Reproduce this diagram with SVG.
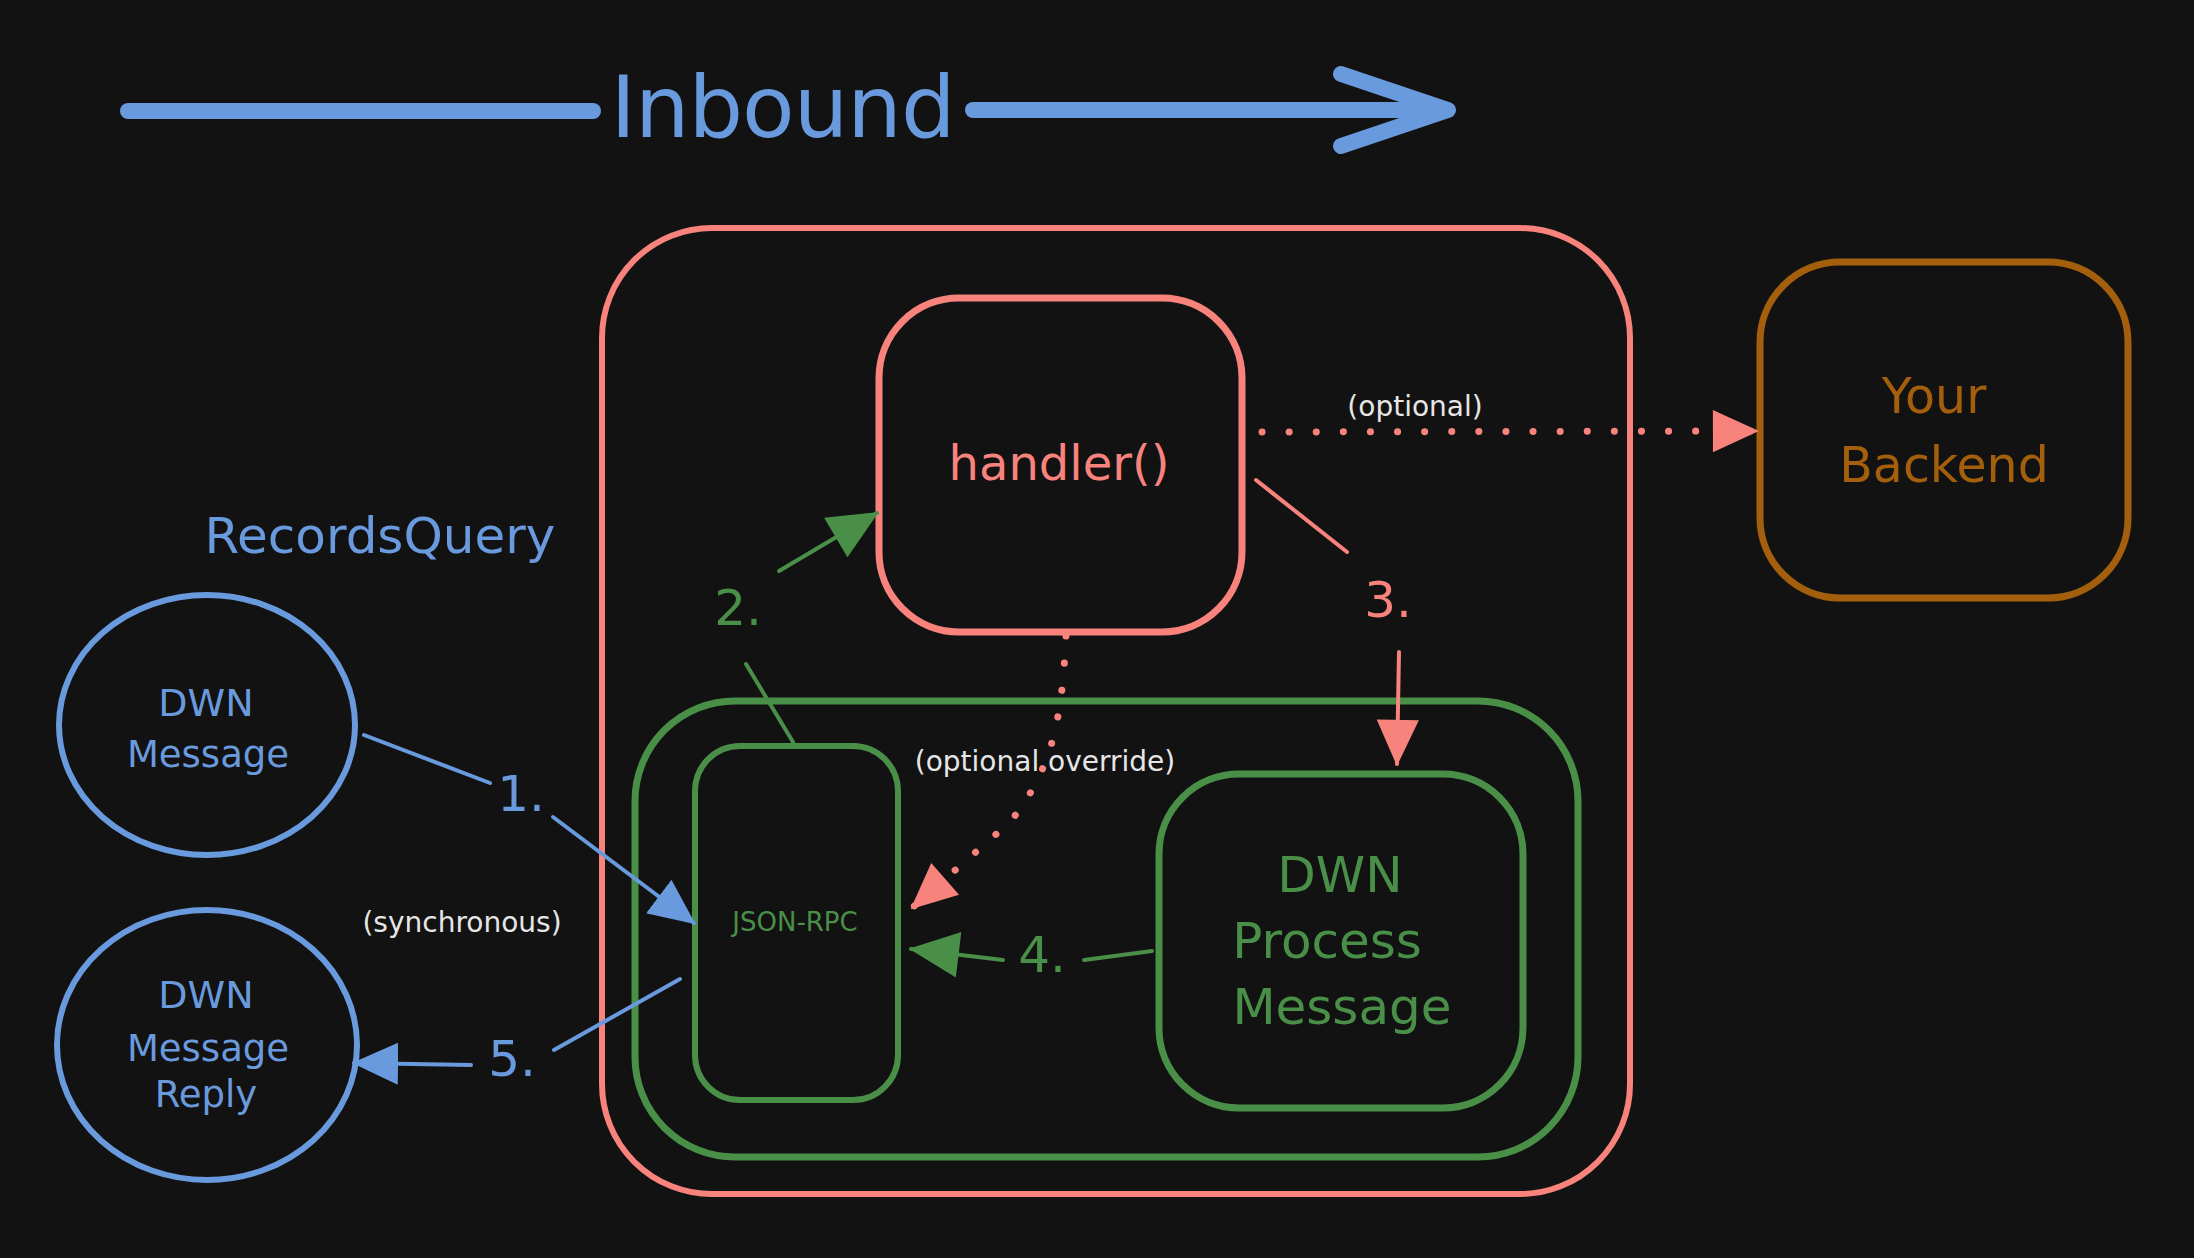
<svg xmlns="http://www.w3.org/2000/svg" width="2194" height="1258" viewBox="0 0 2194 1258">
<style>
  .t { font-family: "DejaVu Sans", "Liberation Sans", sans-serif; text-anchor: middle; }
  .red { stroke: #f8837d; fill: none; }
  .green { stroke: #4a8f48; fill: none; }
  .blue { stroke: #6a9ade; fill: none; }
  .orange { stroke: #a45f0d; fill: none; }
  .box { stroke-width: 7; stroke-linejoin: round; }
  .conn { stroke-width: 4; stroke-linecap: round; fill: none; }
  .dot { stroke-width: 7; stroke-linecap: round; stroke-dasharray: 0.1 27; fill: none; }
  .lbl { fill: #e6e6e6; font-size: 28px; }
  .num { font-size: 50px; }
</style>
<defs>
  <marker id="ah-red" viewBox="0 0 48 48" refX="46" refY="24" markerWidth="48" markerHeight="46" markerUnits="userSpaceOnUse" orient="auto">
    <path d="M0,2 L48,24 L0,46 z" fill="#f8837d"/>
  </marker>
  <marker id="ah-green" viewBox="0 0 48 48" refX="46" refY="24" markerWidth="52" markerHeight="50" markerUnits="userSpaceOnUse" orient="auto">
    <path d="M0,2 L48,24 L0,46 z" fill="#4a8f48"/>
  </marker>
  <marker id="ah-blue" viewBox="0 0 48 48" refX="46" refY="24" markerWidth="46" markerHeight="48" markerUnits="userSpaceOnUse" orient="auto">
    <path d="M0,2 L48,24 L0,46 z" fill="#6a9ade"/>
  </marker>
</defs>
<rect width="2194" height="1258" fill="#121212"/>

<g id="inbound">
  <line x1="128" y1="111" x2="593" y2="111" class="blue" stroke-width="16" stroke-linecap="round"/>
  <line x1="973" y1="110" x2="1446" y2="110" class="blue" stroke-width="16" stroke-linecap="round"/>
  <polyline points="1341,74 1448,110 1341,146" class="blue" stroke-width="16" stroke-linecap="round" stroke-linejoin="round"/>
  <text x="783" y="137" class="t" font-size="86" fill="#6a9ade" textLength="345">Inbound</text>
</g>

<g id="server">
  <rect x="602" y="228" width="1028" height="966" rx="110" class="red" stroke-width="6"/>
</g>

<g id="handler">
  <rect x="879" y="298" width="363" height="334" rx="80" class="red box"/>
  <text x="1059" y="480" class="t" font-size="48" fill="#f8837d">handler()</text>
</g>

<g id="backend">
  <rect x="1760" y="262" width="368" height="336" rx="80" class="orange box"/>
  <text x="1934" y="413" class="t" font-size="49" fill="#a45f0d">Your</text>
  <text x="1944" y="482" class="t" font-size="49" fill="#a45f0d">Backend</text>
</g>

<g id="dwn-container">
  <rect x="635" y="701" width="943" height="456" rx="100" class="green box"/>
</g>

<g id="json-rpc">
  <rect x="695" y="746" width="203" height="354" rx="45" class="green" stroke-width="6"/>
  <text x="795" y="931" class="t" font-size="26" fill="#4a8f48">JSON-RPC</text>
</g>

<g id="dwn-process">
  <rect x="1159" y="774" width="364" height="334" rx="80" class="green box"/>
  <text x="1340" y="892" class="t" font-size="50" fill="#4a8f48">DWN</text>
  <text x="1327" y="958" class="t" font-size="50" fill="#4a8f48">Process</text>
  <text x="1342" y="1024" class="t" font-size="50" fill="#4a8f48">Message</text>
</g>

<g id="records-query">
  <text x="380" y="553" class="t" font-size="50" fill="#6a9ade">RecordsQuery</text>
</g>

<g id="dwn-message">
  <ellipse cx="207" cy="725" rx="148" ry="130" class="blue" stroke-width="6"/>
  <text x="206" y="716" class="t" font-size="38" fill="#6a9ade">DWN</text>
  <text x="208" y="767" class="t" font-size="37" fill="#6a9ade">Message</text>
</g>

<g id="dwn-reply">
  <ellipse cx="207" cy="1045" rx="150" ry="135" class="blue" stroke-width="6"/>
  <text x="206" y="1008" class="t" font-size="38" fill="#6a9ade">DWN</text>
  <text x="208" y="1061" class="t" font-size="37" fill="#6a9ade">Message</text>
  <text x="206" y="1107" class="t" font-size="37" fill="#6a9ade">Reply</text>
</g>

<g id="connectors">
  <!-- 1. -->
  <line x1="364" y1="735" x2="490" y2="783" class="blue conn"/>
  <text x="521" y="811" class="t num" fill="#6a9ade">1.</text>
  <line x1="553" y1="817" x2="694" y2="923" class="blue conn" marker-end="url(#ah-blue)"/>
  <!-- 2. -->
  <line x1="793" y1="742" x2="746" y2="664" class="green conn"/>
  <text x="738" y="625" class="t num" fill="#4a8f48">2.</text>
  <line x1="779" y1="571" x2="877" y2="513" class="green conn" marker-end="url(#ah-green)"/>
  <!-- 3. -->
  <line x1="1256" y1="480" x2="1347" y2="552" class="red conn"/>
  <text x="1388" y="617" class="t num" fill="#f8837d">3.</text>
  <line x1="1399" y1="652" x2="1397" y2="764" class="red conn" marker-end="url(#ah-red)"/>
  <!-- 4. -->
  <line x1="1152" y1="951" x2="1084" y2="960" class="green conn"/>
  <text x="1042" y="972" class="t num" fill="#4a8f48">4.</text>
  <line x1="1003" y1="960" x2="911" y2="949" class="green conn" marker-end="url(#ah-green)"/>
  <!-- 5. -->
  <line x1="680" y1="979" x2="554" y2="1050" class="blue conn"/>
  <text x="512" y="1076" class="t num" fill="#6a9ade">5.</text>
  <line x1="471" y1="1065" x2="354" y2="1063" class="blue conn" marker-end="url(#ah-blue)"/>
  <!-- optional to backend -->
  <line x1="1262" y1="432" x2="1757" y2="431" class="red dot" marker-end="url(#ah-red)"/>
  <text x="1415" y="416" class="t lbl">(optional)</text>
  <!-- optional override -->
  <path d="M1066,636 C1062,720 1052,770 1010,822 L912,908" class="red dot" marker-end="url(#ah-red)"/>
  <text x="1045" y="771" class="t lbl">(optional override)</text>
  <!-- synchronous -->
  <text x="462" y="932" class="t lbl" font-size="26">(synchronous)</text>
</g>
</svg>
